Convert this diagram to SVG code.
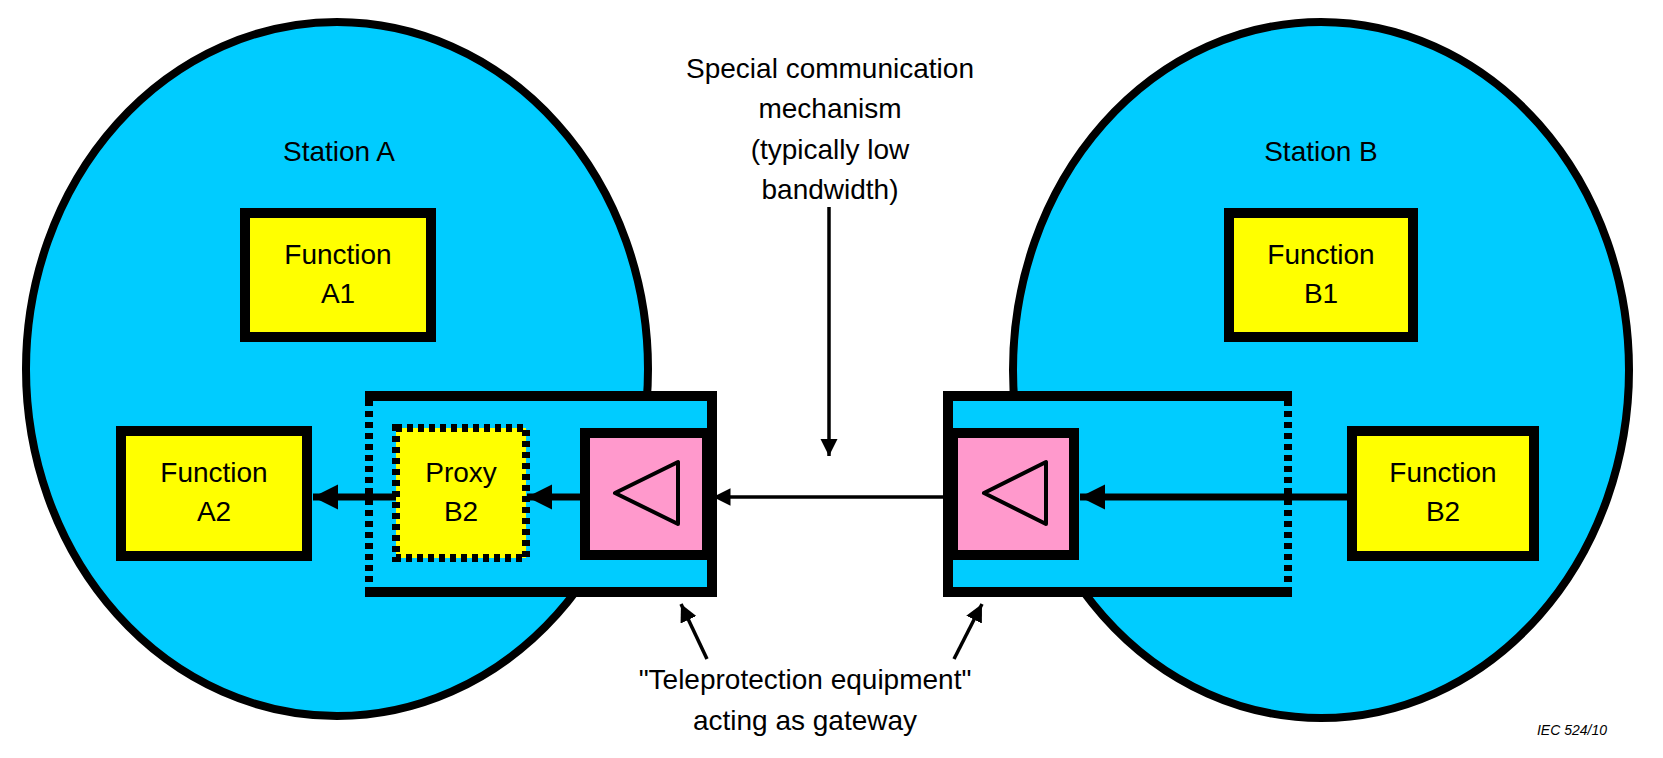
<svg xmlns="http://www.w3.org/2000/svg" width="1663" height="758" viewBox="0 0 1663 758">
<style>
text{font-family:"Liberation Sans",Arial,sans-serif;fill:#000;text-anchor:middle}
.lbl{font-size:28px}
.st{fill:#00CCFF;stroke:#000;stroke-width:8}
.fn{fill:#FFFF00;stroke:#000;stroke-width:10}
.pk{fill:#FF99CC;stroke:#000;stroke-width:10}
.tri{fill:none;stroke:#000;stroke-width:4;stroke-linejoin:round}
.sol{fill:none;stroke:#000;stroke-width:10}
.dot{fill:none;stroke:#000;stroke-width:8;stroke-dasharray:6 5}
.thick{stroke:#000;stroke-width:7;fill:none}
.thin{stroke:#000;stroke-width:3.5;fill:none}
</style>
<defs>
<marker id="ah" viewBox="0 0 10 10" refX="10" refY="5" markerWidth="3.6" markerHeight="4.2" orient="auto" markerUnits="strokeWidth"><path d="M0,0L10,5L0,10z"/></marker>
<marker id="ahs" viewBox="0 0 10 10" refX="10" refY="5" markerWidth="5" markerHeight="5" orient="auto" markerUnits="strokeWidth"><path d="M0,0L10,5L0,10z"/></marker>
</defs>
<g id="stationA"><ellipse class="st" cx="337" cy="369" rx="311" ry="347"/><text class="lbl" x="339" y="161">Station A</text></g>
<g id="stationB"><ellipse class="st" cx="1321" cy="370" rx="308" ry="348"/><text class="lbl" x="1321" y="161">Station B</text></g>
<g id="gatewayA">
<rect x="365" y="396" width="347" height="196" fill="#00CCFF"/>
<path class="sol" d="M365,396H712V592H365"/>
<path class="dot" d="M369,400V588"/>
</g>
<g id="gatewayB">
<rect x="948" y="396" width="344" height="196" fill="#00CCFF"/>
<path class="sol" d="M1292,396H948V592H1292"/>
<path class="dot" d="M1288,400V588"/>
</g>
<g id="funcA1"><rect class="fn" x="245" y="213" width="186" height="124"/><text class="lbl" x="338" y="264">Function</text><text class="lbl" x="338" y="303">A1</text></g>
<g id="funcA2"><rect class="fn" x="121" y="431" width="186" height="125"/><text class="lbl" x="214" y="482">Function</text><text class="lbl" x="214" y="521">A2</text></g>
<g id="funcB1"><rect class="fn" x="1229" y="213" width="184" height="124"/><text class="lbl" x="1321" y="264">Function</text><text class="lbl" x="1321" y="303">B1</text></g>
<g id="funcB2"><rect class="fn" x="1352" y="431" width="182" height="125"/><text class="lbl" x="1443" y="482">Function</text><text class="lbl" x="1443" y="521">B2</text></g>
<g id="proxyB2"><rect x="396" y="428" width="130" height="130" fill="#FFFF00" stroke="#000" stroke-width="8" stroke-dasharray="6 5"/><text class="lbl" x="461" y="482">Proxy</text><text class="lbl" x="461" y="521">B2</text></g>
<g id="teleA"><rect class="pk" x="585" y="433" width="122" height="122"/><path class="tri" d="M615,493L678,462V524Z"/></g>
<g id="teleB"><rect class="pk" x="953" y="433" width="121" height="122"/><path class="tri" d="M984,493L1046,462V524Z"/></g>
<g id="connectors">
<line class="thick" x1="580" y1="497" x2="527" y2="497" marker-end="url(#ah)"/>
<line class="thick" x1="396" y1="497" x2="313" y2="497" marker-end="url(#ah)"/>
<line class="thick" x1="1347" y1="497" x2="1080" y2="497" marker-end="url(#ah)"/>
<line class="thin" x1="948" y1="497" x2="713" y2="497" marker-end="url(#ahs)"/>
<line class="thin" x1="829" y1="207" x2="829" y2="456" marker-end="url(#ahs)"/>
<line class="thin" x1="707" y1="659" x2="681" y2="604" marker-end="url(#ahs)"/>
<line class="thin" x1="954" y1="659" x2="982" y2="604" marker-end="url(#ahs)"/>
</g>
<g id="labels">
<text class="lbl" x="830" y="78">Special communication</text>
<text class="lbl" x="830" y="118">mechanism</text>
<text class="lbl" x="830" y="159">(typically low</text>
<text class="lbl" x="830" y="199">bandwidth)</text>
<text class="lbl" x="805" y="689">"Teleprotection equipment"</text>
<text class="lbl" x="805" y="730">acting as gateway</text>
<text x="1572" y="735" style="font-size:14px;font-style:italic">IEC   524/10</text>
</g>
</svg>
